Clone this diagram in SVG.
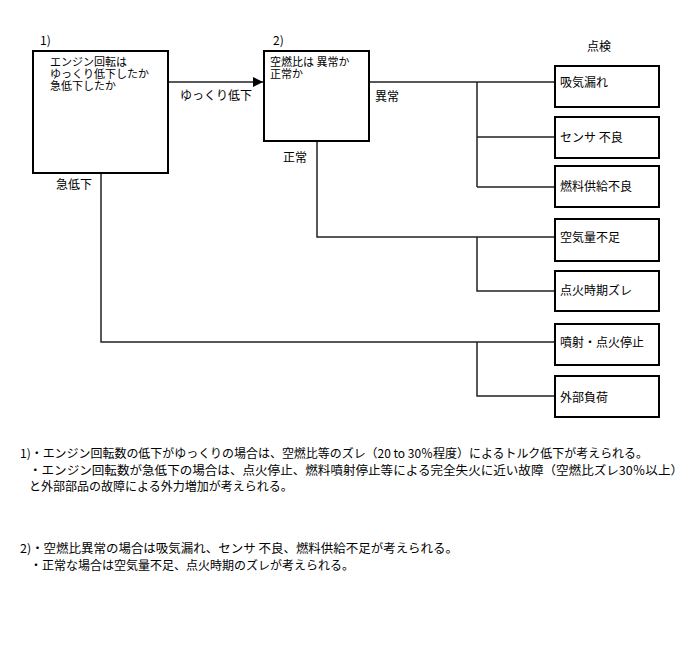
<svg xmlns="http://www.w3.org/2000/svg" width="688" height="658" viewBox="0 0 688 658">
<style>
text{font-family:"Noto Sans CJK JP","Noto Sans CJK SC",sans-serif;font-size:12px;fill:#000}
.tight{font-size:11px}
.box{fill:#fff;stroke:#000;stroke-width:2}
.con{fill:none;stroke:#222;stroke-width:1.5}
</style>
<defs>
<marker id="arr" markerWidth="10" markerHeight="10" refX="10" refY="5" orient="auto" markerUnits="userSpaceOnUse">
<path d="M0,0 L10,5 L0,10 Z" fill="#000"/>
</marker>
</defs>
<rect width="688" height="658" fill="#fff"/>
<g id="connectors">
<path class="con" d="M169,82 H263" marker-end="url(#arr)"/>
<path class="con" d="M370,82 H554"/>
<path class="con" d="M477,82 V187 M477,137 H554 M477,187 H554"/>
<path class="con" d="M317,142 V237 H554"/>
<path class="con" d="M477,237 V291 H554"/>
<path class="con" d="M101,174 V342 H554"/>
<path class="con" d="M477,342 V396 H554"/>
</g>
<g id="node1">
<text x="40" y="45">1)</text>
<rect class="box" x="33" y="51" width="135" height="122"/>
<text class="tight" x="50" y="66">エンジン回転は<tspan x="50" dy="12">ゆっくり低下したか</tspan><tspan x="50" dy="12">急低下したか</tspan></text>
</g>
<g id="node2">
<text x="273" y="45">2)</text>
<rect class="box" x="264" y="51" width="105" height="90"/>
<text class="tight" x="270" y="66">空燃比は 異常か<tspan x="270" dy="12">正常か</tspan></text>
</g>
<g id="labels">
<text x="180" y="100">ゆっくり低下</text>
<text x="56" y="189">急低下</text>
<text x="375" y="101">異常</text>
<text x="283" y="162">正常</text>
<text x="587" y="51">点検</text>
</g>
<g id="check1"><rect class="box" x="555" y="66" width="104" height="41"/><text x="560" y="87">吸気漏れ</text></g>
<g id="check2"><rect class="box" x="555" y="117" width="104" height="41"/><text x="560" y="142">センサ 不良</text></g>
<g id="check3"><rect class="box" x="555" y="166" width="104" height="41"/><text x="560" y="191">燃料供給不良</text></g>
<g id="check4"><rect class="box" x="555" y="219" width="104" height="42"/><text x="560" y="242">空気量不足</text></g>
<g id="check5"><rect class="box" x="555" y="271" width="104" height="40"/><text x="560" y="295">点火時期ズレ</text></g>
<g id="check6"><rect class="box" x="555" y="324" width="104" height="41"/><text x="560" y="347">噴射・点火停止</text></g>
<g id="check7"><rect class="box" x="555" y="376" width="104" height="41"/><text x="560" y="402">外部負荷</text></g>
<g id="notes">
<text x="20" y="458" textLength="628" lengthAdjust="spacingAndGlyphs">1)・エンジン回転数の低下がゆっくりの場合は、空燃比等のズレ（20 to 30％程度）によるトルク低下が考えられる。</text>
<text x="29" y="475" textLength="654" lengthAdjust="spacingAndGlyphs">・エンジン回転数が急低下の場合は、点火停止、燃料噴射停止等による完全失火に近い故障（空燃比ズレ30％以上）</text>
<text x="29" y="491">と外部部品の故障による外力増加が考えられる。</text>
<text x="20" y="553" textLength="438" lengthAdjust="spacingAndGlyphs">2)・空燃比異常の場合は吸気漏れ、センサ 不良、燃料供給不足が考えられる。</text>
<text x="30" y="570">・正常な場合は空気量不足、点火時期のズレが考えられる。</text>
</g>
</svg>
